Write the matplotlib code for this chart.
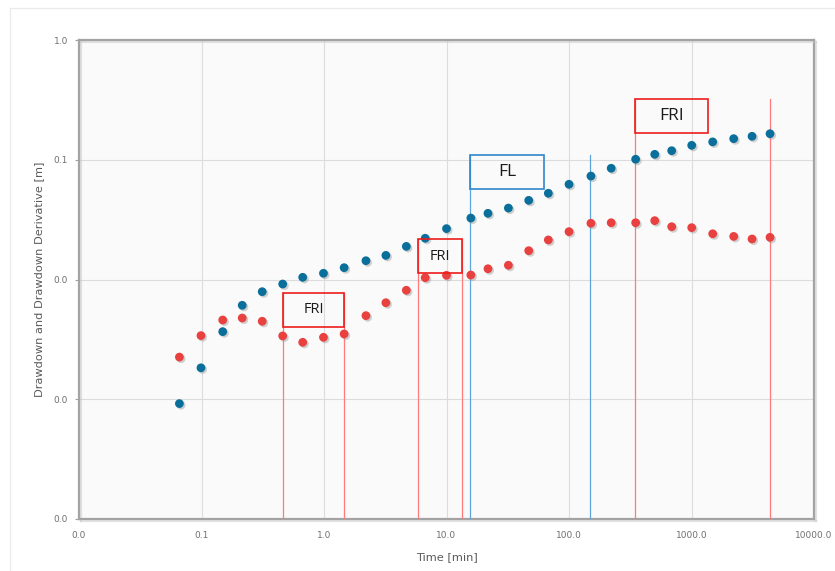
import numpy as np
import matplotlib.pyplot as plt
import matplotlib.patheffects as pe
from matplotlib.patches import Rectangle
from matplotlib.ticker import FixedLocator, FuncFormatter, NullLocator

# drawdown and derivative readings
time_min = [0.066, 0.099, 0.149, 0.215, 0.313, 0.46, 0.67, 0.99, 1.46, 2.2, 3.2, 4.7,
            6.7, 10.0, 15.8, 21.8, 32.0, 46.9, 67.8, 100.0, 151.0, 221.0, 350.0, 501.0,
            689.0, 1004.0, 1489.0, 2210.0, 3120.0, 4375.0]
drawdown = [9.2e-4, 1.83e-3, 3.67e-3, 6.09e-3, 7.91e-3, 9.17e-3, 0.01043, 0.01127,
            0.01255, 0.01435, 0.0159, 0.0189, 0.0221, 0.0266, 0.0326, 0.0357, 0.0395,
            0.0458, 0.0525, 0.0624, 0.0731, 0.0849, 0.101, 0.111, 0.119, 0.132, 0.141,
            0.150, 0.157, 0.165]
derivative = [2.25e-3, 3.40e-3, 4.59e-3, 4.77e-3, 4.48e-3, 3.38e-3, 2.99e-3, 3.29e-3,
              3.51e-3, 4.99e-3, 6.40e-3, 8.13e-3, 0.01035, 0.01084, 0.0109, 0.0123,
              0.01315, 0.0174, 0.0214, 0.0251, 0.0295, 0.0298, 0.0298, 0.0310, 0.0276,
              0.0271, 0.0241, 0.0229, 0.0218, 0.0225]

# flow regime intervals: label, start, end, level of the box top
regime_labels = ['FRI', 'FRI', 'FL', 'FRI']
regime_start = [0.466, 5.83, 15.6, 343.6]
regime_end = [1.47, 13.4, 147.6, 4375.0]
regime_top = [7.76e-3, 0.0218, 0.1096, 0.32]

fig = plt.figure(figsize=(8.35, 5.71), dpi=100)
fig.patches.append(Rectangle((10 / 835, -0.01), 1.0, 1 - 8 / 571 + 0.01,
                             transform=fig.transFigure, facecolor='white',
                             edgecolor='#ebebeb', linewidth=1.0, zorder=-10))
ax = fig.add_axes([79 / 835, 52 / 571, 735 / 835, 479 / 571])
ax.set_facecolor('#fafafa')
ax.set_xscale('log')
ax.set_yscale('log')
ax.set_xlim(0.01, 10000)
ax.set_ylim(1e-4, 1)

ax.xaxis.set_major_locator(FixedLocator([10.0 ** k for k in range(-2, 5)]))
ax.yaxis.set_major_locator(FixedLocator([10.0 ** k for k in range(-4, 1)]))
ax.xaxis.set_minor_locator(NullLocator())
ax.yaxis.set_minor_locator(NullLocator())
fmt = FuncFormatter(lambda v, p: '%.1f' % v)
ax.xaxis.set_major_formatter(fmt)
ax.yaxis.set_major_formatter(fmt)
ax.tick_params(axis='both', labelsize=6.5, labelcolor='#707070', color='#a0a0a0',
               length=3, width=0.8, pad=5)
ax.tick_params(axis='x', length=0, pad=9)
ax.grid(True, color='#dcdcdc', linewidth=0.8)
ax.set_axisbelow(True)
for s in ax.spines.values():
    s.set_color('#a3a3a3')
    s.set_linewidth(1.6)
    s.set_path_effects([pe.SimpleLineShadow(offset=(1.2, -1.2), shadow_color='#c8c8c8', alpha=0.5),
                        pe.Normal()])

ax.set_xlabel('Time [min]', fontsize=8.2, color='#5a5a5a', labelpad=8)
ax.set_ylabel('Drawdown and Drawdown Derivative [m]', fontsize=8.2, color='#5a5a5a',
              labelpad=7)

shadow = [pe.SimplePatchShadow(offset=(1.2, -1.2), shadow_rgbFace='#9a9a9a', alpha=0.45),
          pe.Normal()]
ax.plot(time_min, drawdown, linestyle='none', marker='o', markersize=6.3,
        color='#0a6f9a', markeredgewidth=0, path_effects=shadow, zorder=4)
ax.plot(time_min, derivative, linestyle='none', marker='o', markersize=6.3,
        color='#e8413f', markeredgewidth=0, path_effects=shadow, zorder=4)

# regime markers: two vertical lines and a labelled box on the left one
box_decades = 0.6
box_height = 0.285
for i, lab in enumerate(regime_labels):
    t0, t1, top = regime_start[i], regime_end[i], regime_top[i]
    if lab == 'FL':
        line_c, box_c = '#5da4dc', '#2f86cc'
    else:
        line_c, box_c = '#ff7a7a', '#ee1c1c'
    ax.plot([t0, t0], [1e-4, top], color=line_c, linewidth=0.9, zorder=3)
    ax.plot([t1, t1], [1e-4, top], color=line_c, linewidth=0.9, zorder=3)
    right = min(t1, t0 * 10 ** box_decades)
    bottom = top / 10 ** box_height
    ax.add_patch(Rectangle((t0, bottom), right - t0, top - bottom, facecolor='none',
                           edgecolor=box_c, linewidth=1.2, zorder=5))
    size = 10.5 if i < 2 else 12.5
    ax.text(np.sqrt(t0 * right), np.sqrt(top * bottom), lab, ha='center', va='center',
            fontsize=size, family='Open Sans', color='#1a1a1a', zorder=6)

fig.savefig('out.png', dpi=100)
